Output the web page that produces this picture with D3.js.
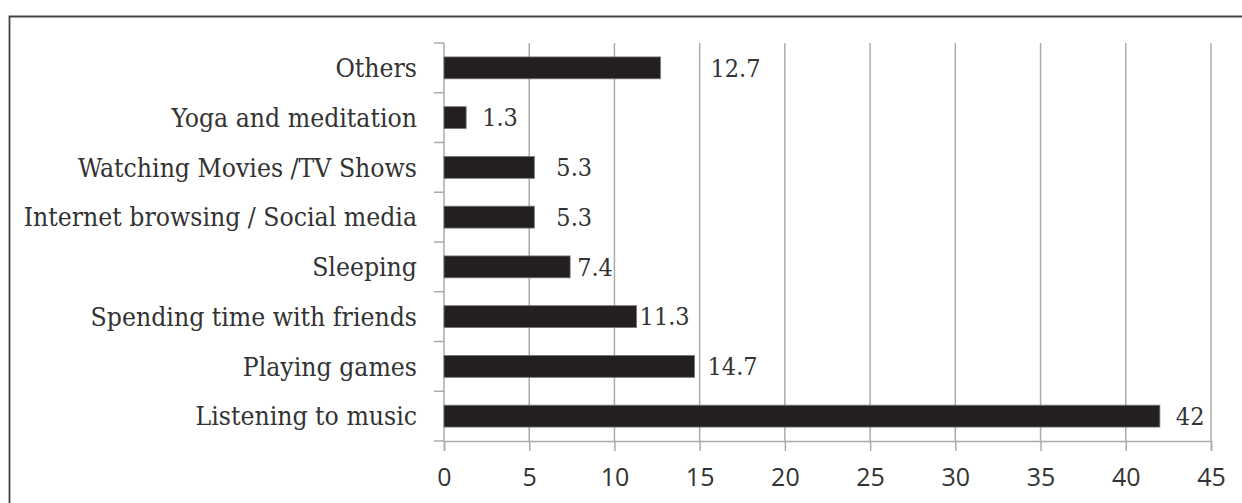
<!DOCTYPE html>
<html>
<head>
<meta charset="utf-8">
<script src="https://cdn.jsdelivr.net/npm/d3@7"></script>
<style>
  html, body { margin: 0; padding: 0; background: #fff; }
  .cat { font-family: 'DejaVu Serif', serif; font-stretch: condensed; font-size: 26.3px; fill: #333; }
  .val { font-family: 'DejaVu Serif', serif; font-stretch: condensed; font-size: 25px; fill: #333; }
  .tick text { font-family: 'Open Sans', sans-serif; font-size: 25px; fill: #333; }
</style>
</head>
<body>
<div class="container"></div>
<script>
const categories = [
  'Others',
  'Yoga and meditation',
  'Watching Movies /TV Shows',
  'Internet browsing / Social media',
  'Sleeping',
  'Spending time with friends',
  'Playing games',
  'Listening to music'
];
const values = [12.7, 1.3, 5.3, 5.3, 7.4, 11.3, 14.7, 42];
const xTicks = [0, 5, 10, 15, 20, 25, 30, 35, 40, 45];
// label gaps after bar ends, as placed in the original
const labelGap = [50, 16, 22, 22, 7, 3, 13, 16];

const width = 1242;
const height = 503;
const margin = { top: 43, right: 31, bottom: 62, left: 444 };

const svg = d3
  .select('.container')
  .append('svg')
  .attr('width', width)
  .attr('height', height);

// frame
svg
  .append('path')
  .attr('d', `M9.5,${height} V16.5 H${width}`)
  .attr('fill', 'none')
  .attr('stroke', '#444')
  .attr('stroke-width', 1.8);

const x = d3
  .scaleLinear()
  .domain([0, 45])
  .range([margin.left, width - margin.right]);

const y = d3
  .scaleBand()
  .domain(categories)
  .range([margin.top, height - margin.bottom])
  .paddingInner(0.56)
  .paddingOuter(0.28);

const yStep = y.step();
const plotBottom = height - margin.bottom;

// vertical gridlines
svg
  .append('g')
  .selectAll('line')
  .data(xTicks.slice(1))
  .join('line')
  .attr('x1', (d) => x(d))
  .attr('x2', (d) => x(d))
  .attr('y1', margin.top)
  .attr('y2', plotBottom)
  .attr('stroke', '#aaa')
  .attr('stroke-width', 1.5);

// x axis
const xAxis = svg
  .append('g')
  .attr('transform', `translate(0, ${plotBottom})`)
  .call(d3.axisBottom(x).tickValues(xTicks).tickSize(10).tickPadding(17));
xAxis.select('.domain').attr('stroke', '#aaa').attr('stroke-width', 1.5);
xAxis.selectAll('.tick line').attr('stroke', '#aaa').attr('stroke-width', 1.5);

// y axis line and category boundary ticks
const yg = svg.append('g');
yg.append('line')
  .attr('x1', margin.left)
  .attr('x2', margin.left)
  .attr('y1', margin.top)
  .attr('y2', plotBottom)
  .attr('stroke', '#aaa')
  .attr('stroke-width', 1.5);
yg.selectAll('.bt')
  .data(d3.range(categories.length + 1))
  .join('line')
  .attr('class', 'bt')
  .attr('x1', margin.left - 10)
  .attr('x2', margin.left)
  .attr('y1', (i) => margin.top + i * yStep)
  .attr('y2', (i) => margin.top + i * yStep)
  .attr('stroke', '#aaa')
  .attr('stroke-width', 1.5);

// category labels
svg
  .append('g')
  .selectAll('text')
  .data(categories)
  .join('text')
  .attr('class', 'cat')
  .attr('x', 417)
  .attr('y', (d) => y(d) + y.bandwidth() / 2)
  .attr('dy', '0.35em')
  .attr('text-anchor', 'end')
  .text((d) => d);

// bars
svg
  .append('g')
  .selectAll('rect')
  .data(values)
  .join('rect')
  .attr('x', x(0))
  .attr('y', (d, i) => y(categories[i]))
  .attr('width', (d) => x(d) - x(0))
  .attr('height', y.bandwidth())
  .attr('fill', '#231f20')
  .attr('stroke', '#777')
  .attr('stroke-width', 0.8);

// value labels
svg
  .append('g')
  .selectAll('text')
  .data(values)
  .join('text')
  .attr('class', 'val')
  .attr('x', (d, i) => x(d) + labelGap[i])
  .attr('y', (d, i) => y(categories[i]) + y.bandwidth() / 2)
  .attr('dy', '0.35em')
  .text((d) => d);
</script>
</body>
</html>
